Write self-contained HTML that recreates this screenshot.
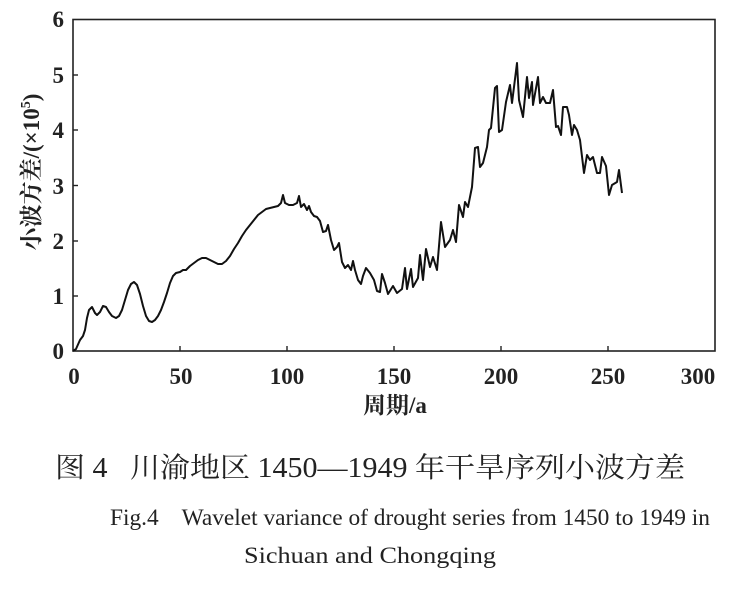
<!DOCTYPE html>
<html><head><meta charset="utf-8"><style>
body{margin:0;background:#fff;}
svg{display:block}
</style></head><body>
<svg width="740" height="600" xmlns="http://www.w3.org/2000/svg" font-family="'Liberation Serif','Noto Serif CJK SC',serif">
<rect width="740" height="600" fill="#fff"/>
<rect x="73" y="19.5" width="642" height="331.5" fill="none" stroke="#222" stroke-width="1.6"/>
<g stroke="#222" stroke-width="1.4">
<line x1="180" y1="351" x2="180" y2="346"/><line x1="287" y1="351" x2="287" y2="346"/><line x1="394" y1="351" x2="394" y2="346"/><line x1="501" y1="351" x2="501" y2="346"/><line x1="608" y1="351" x2="608" y2="346"/>
<line x1="73" y1="75" x2="78" y2="75"/><line x1="73" y1="130" x2="78" y2="130"/><line x1="73" y1="185.5" x2="78" y2="185.5"/><line x1="73" y1="241" x2="78" y2="241"/><line x1="73" y1="296" x2="78" y2="296"/>
</g>
<g font-size="23" font-weight="bold" fill="#222" text-anchor="end">
<text x="64" y="27">6</text><text x="64" y="83">5</text><text x="64" y="138">4</text><text x="64" y="194">3</text><text x="64" y="249">2</text><text x="64" y="304">1</text><text x="64" y="359">0</text>
</g>
<g font-size="23" font-weight="bold" fill="#222" text-anchor="middle">
<text x="74" y="384">0</text><text x="181" y="384">50</text><text x="287" y="384">100</text><text x="394" y="384">150</text><text x="501" y="384">200</text><text x="608" y="384">250</text><text x="698" y="384">300</text>
</g>
<text x="395" y="413" font-size="23" font-weight="bold" text-anchor="middle" fill="#222">周期/a</text>
<text transform="translate(39,172) rotate(-90)" font-size="23" font-weight="bold" text-anchor="middle" fill="#222">小波方差/(×10<tspan font-size="14" dy="-9">5</tspan><tspan dy="9">)</tspan></text>
<polyline fill="none" stroke="#111" stroke-width="2" stroke-linejoin="round" points="73,351 76,349 80,340 83,336 85,330 87,318 89,310 92,307 95,313 97,315 100,312 103,306 106,307 109,312 112,316 116,318 119,316 122,310 125,300 128,290 131,284 134,282 137,285 140,294 143,306 146,316 149,321 152,322 155,320 158,316 161,310 164,302 167,293 170,283 173,276 176,273 180,272 183,270 186,270 190,266 194,263 198,260 202,258 206,258 210,260 214,262 218,264 222,264 226,261 230,256 234,249 238,243 242,236 246,230 250,225 254,220 258,215 262,212 266,209 270,208 274,207 278,206 281,203 283,195 285,203 289,205 293,205 297,203 299,196 301,207 304,204 307,210 309,206 311,212 314,216 317,217 320,221 323,232 326,231 328,225 331,240 334,250 337,247 339,243 342,262 345,268 348,265 351,270 353,261 355,270 358,280 361,284 363,276 366,268 370,273 374,280 377,291 380,292 382,274 385,283 388,294 393,286 397,293 402,289 405,268 407,289 411,269 413,287 418,278 420,255 423,280 426,249 430,267 433,257 437,270 441,222 445,247 450,240 453,230 456,242 459,205 463,217 465,202 468,207 472,187 475,148 478,147 480,167 483,163 487,147 489,130 491,128 495,88 497,86 499,132 502,130 506,102 510,85 512,103 517,63 519,100 523,117 527,77 529,98 532,82 533,105 538,77 540,103 543,97 546,103 550,103 553,90 556,127 558,126 561,135 563,107 567,107 569,115 572,135 574,125 577,130 580,140 584,173 587,155 590,160 593,157 597,173 600,173 602,157 606,166 609,195 612,185 617,182 619,170 622,193"/>
<text x="55" y="477" font-size="28" textLength="630" lengthAdjust="spacingAndGlyphs" fill="#222" xml:space="preserve">图 4   川渝地区 1450—1949 年干旱序列小波方差</text>
<text x="110" y="525" font-size="23" textLength="600" lengthAdjust="spacingAndGlyphs" fill="#222" xml:space="preserve">Fig.4    Wavelet variance of drought series from 1450 to 1949 in</text>
<text x="244" y="563" font-size="23" textLength="252" lengthAdjust="spacingAndGlyphs" fill="#222">Sichuan and Chongqing</text>
</svg>
</body></html>
